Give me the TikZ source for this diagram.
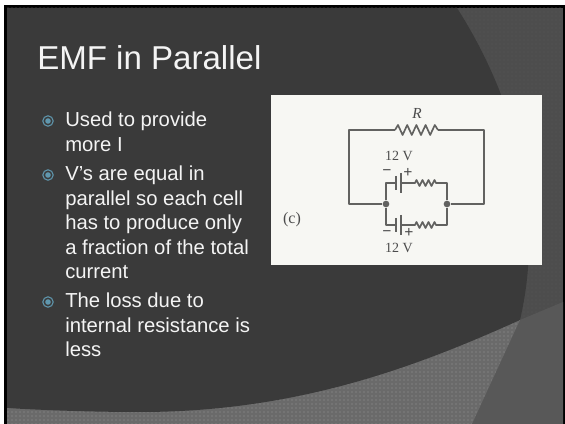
\documentclass[tikz,border=0pt]{standalone}
\usepackage{fontspec}
\setmainfont{Liberation Sans}
\newfontfamily\photofont{Liberation Serif}
\usetikzlibrary{patterns}
\definecolor{slidedark}{HTML}{3A3A3A}
\definecolor{slidestrip}{HTML}{4D4D4D}
\definecolor{slidecorner}{HTML}{585858}
\definecolor{slideband}{HTML}{6A6A6A}
\definecolor{bulletblue}{HTML}{5F97AE}
\definecolor{photopaper}{HTML}{F7F7F3}
\definecolor{wire}{HTML}{626260}
\definecolor{ink}{HTML}{4C4C4C}
\definecolor{slidetext}{HTML}{F4F4F4}
\tikzset{
  x=0.75pt, y=-0.75pt,
  bullettext/.style={anchor=north west, align=left, text=slidetext, inner sep=0pt, font=\fontsize{15.2}{18.3}\selectfont},
  wireline/.style={draw=wire, line width=1.25pt, line join=round},
  plate/.style={draw=wire, line width=1.6pt},
  inklabel/.style={text=ink, inner sep=0pt, font=\photofont\fontsize{10.5}{11}\selectfont},
  signlabel/.style={text=ink, inner sep=0pt, font=\photofont\bfseries\fontsize{12}{12}\selectfont},
  junction/.style={circle, fill=wire, inner sep=0pt, minimum width=5pt}
}
\newcommand{\bulletmark}[1]{
\draw[bulletblue, line width=0.8pt] (#1) circle (5.2);
\fill[bulletblue] (#1) circle (2.8);
}
\begin{document}
\begin{tikzpicture}
\useasboundingbox (0,0) rectangle (565,424);
% slide
\fill[white] (0,0) rectangle (565,424);
\fill[black] (4,5) rectangle (565,424);
\fill[slidestrip] (7,8) rectangle (563,424);
\fill[pattern=dots, pattern color=slidecorner] (7,8) rectangle (563,424);
\fill[slidecorner] (520,320) -- (563,302) -- (563,424) -- (472,424) -- cycle;
\fill[slideband] (7,380) -- (520,320) -- (472,424) -- (7,424) -- cycle;
\fill[pattern=dots, pattern color=slideband!70!white] (7,380) -- (520,320) -- (472,424) -- (7,424) -- cycle;
\fill[slidedark] (7,8) -- (457,8) .. controls (500,75) and (550,190) .. (520,320) .. controls (420,365) and (300,412) .. (140,412) .. controls (90,412) and (40,410) .. (7,408) -- cycle;

% title
\node[anchor=base west, text=slidetext, inner sep=0pt, font=\fontsize{24.8}{28}\selectfont] (title) at (37,70) {EMF in Parallel};

% bullets
\bulletmark{48,121}
\bulletmark{48,175}
\bulletmark{48,302}
\node[bullettext] (b1) at (65,112) {Used to provide\\more I};
\node[bullettext] (b2) at (65,166) {V’s are equal in\\parallel so each cell\\has to produce only\\a fraction of the total\\current};
\node[bullettext] (b3) at (65,293) {The loss due to\\internal resistance is\\less};

% photo
\fill[photopaper] (271,95) rectangle (542,265);

% junctions
\node[junction] (jl) at (386,204) {};
\node[junction] (jr) at (447,204) {};

% outer loop
\coordinate (tl) at (349,130);
\coordinate (tr) at (484,130);
\coordinate (bl) at (349,204);
\coordinate (br) at (484,204);
\coordinate (rl) at (395,130);
\coordinate (rr) at (438,130);
\draw[wireline] (rl) -- (tl) -- (bl) -- (jl);
\draw[wireline] (rr) -- (tr) -- (br) -- (jr);
\draw[wireline] (rl) -- ++(3,-5) -- ++(4.6,10) -- ++(4.6,-10) -- ++(4.6,10) -- ++(4.6,-10) -- ++(4.6,10) -- ++(4.6,-10) -- ++(4.6,10) -- ++(4.6,-10) -- (rr);

% branches
\foreach \name/\ypos in {up/183, lo/225} {
  \coordinate (\name a) at (396,\ypos);
  \coordinate (\name b) at (401,\ypos);
  \coordinate (\name c) at (415,\ypos);
  \coordinate (\name d) at (438,\ypos);
  \draw[wireline] (jl) |- (\name a);
  \draw[wireline] (jr) |- (\name d);
  \draw[wireline] (\name b) -- (\name c) -- ++(1.5,-3) -- ++(3,6) -- ++(3,-6) -- ++(3,6) -- ++(3,-6) -- ++(3,6) -- ++(3,-6) -- ++(1.5,3) -- (\name d);
  \draw[plate] (396,\ypos-7) -- (396,\ypos+7);
  \draw[plate] (401,\ypos-10) -- (401,\ypos+10);
}

% labels
\node[inklabel, font=\photofont\itshape\fontsize{11.5}{12}\selectfont] (rlab) at (417,113) {R};
\node[inklabel] (u12) at (399,156) {12 V};
\node[inklabel] (l12) at (399,248) {12 V};
\node[signlabel] (um) at (387,173) {−};
\node[signlabel] (up) at (408,173) {+};
\node[signlabel] (lm) at (387,234) {−};
\node[signlabel] (lp) at (409,233) {+};
\node[inklabel, font=\photofont\fontsize{12}{12}\selectfont] (clab) at (292,220) {(c)};
\end{tikzpicture}
\end{document}
